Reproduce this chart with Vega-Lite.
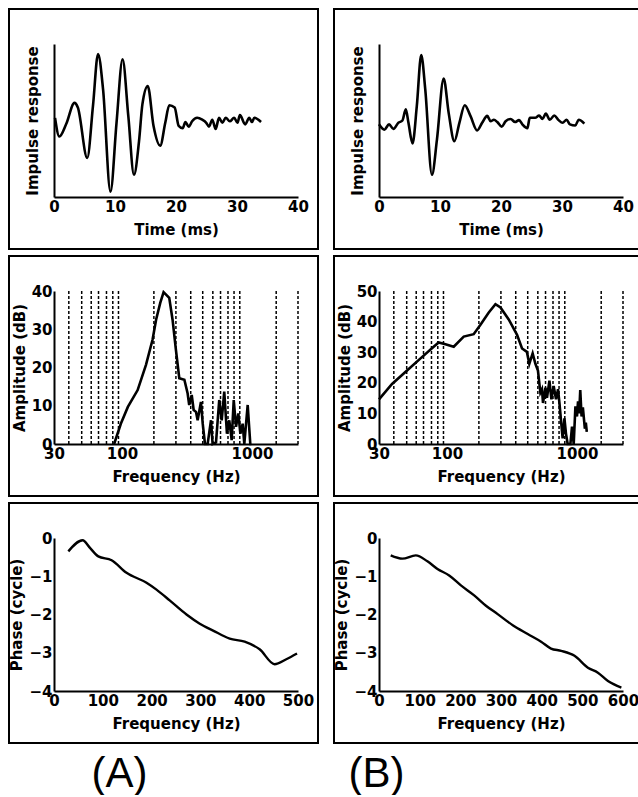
{
"$schema":"https://vega.github.io/schema/vega-lite/v6.json",
"background":"white",
"padding":{"left":8,"top":8,"right":0,"bottom":0},
"autosize":{"type":"pad"},
"datasets":{
"irA":[{"t":0.17,"v":0.035},{"t":0.88,"v":-0.21},{"t":1.98,"v":-0.05},{"t":3.36,"v":0.23},{"t":3.91,"v":0.17},{"t":5.45,"v":-0.49},{"t":6.39,"v":0.19},{"t":7.22,"v":0.87},{"t":8.04,"v":0.41},{"t":9.26,"v":-0.93},{"t":10.25,"v":-0.03},{"t":11.24,"v":0.8},{"t":12.18,"v":0.06},{"t":13.11,"v":-0.71},{"t":13.94,"v":-0.27},{"t":14.49,"v":0.21},{"t":15.37,"v":0.45},{"t":16.31,"v":-0.07},{"t":17.41,"v":-0.33},{"t":18.24,"v":-0.03},{"t":18.9,"v":0.2},{"t":19.78,"v":0.17},{"t":20.44,"v":-0.07},{"t":21.1,"v":-0.1},{"t":21.54,"v":-0.02},{"t":22.09,"v":-0.08},{"t":22.64,"v":-0.01},{"t":23.47,"v":0.035},{"t":24.3,"v":0.01},{"t":24.96,"v":-0.03},{"t":25.4,"v":-0.08},{"t":25.95,"v":0.01},{"t":26.5,"v":-0.11},{"t":27.05,"v":0.035},{"t":27.6,"v":-0.03},{"t":28.15,"v":0.035},{"t":28.82,"v":-0.01},{"t":29.53,"v":0.035},{"t":30.08,"v":-0.03},{"t":30.47,"v":0.07},{"t":31.35,"v":-0.05},{"t":32.01,"v":0.035},{"t":32.45,"v":-0.02},{"t":32.84,"v":0.035},{"t":33.94,"v":-0.02}],
"irB":[{"t":0,"v":-0.05},{"t":0.88,"v":-0.12},{"t":1.65,"v":-0.05},{"t":2.36,"v":-0.11},{"t":3.18,"v":-0.03},{"t":3.84,"v":0},{"t":4.39,"v":0.145},{"t":4.83,"v":-0.03},{"t":5.49,"v":-0.3},{"t":6.2,"v":0.19},{"t":6.92,"v":0.855},{"t":7.58,"v":0.41},{"t":8.68,"v":-0.71},{"t":9.5,"v":-0.25},{"t":10.6,"v":0.55},{"t":11.42,"v":0.1},{"t":12.36,"v":-0.27},{"t":13.18,"v":-0.03},{"t":14.06,"v":0.2},{"t":14.99,"v":0.06},{"t":16.09,"v":-0.13},{"t":16.91,"v":-0.03},{"t":17.74,"v":0.06},{"t":18.29,"v":-0.01},{"t":18.84,"v":0.01},{"t":19.39,"v":-0.02},{"t":20.1,"v":-0.08},{"t":20.76,"v":-0.01},{"t":21.58,"v":0.02},{"t":22.3,"v":-0.02},{"t":22.96,"v":0.005},{"t":23.5,"v":-0.05},{"t":24.33,"v":-0.1},{"t":24.71,"v":0.035},{"t":25.59,"v":0.035},{"t":26.25,"v":0.065},{"t":26.8,"v":0.02},{"t":27.35,"v":0.09},{"t":28.01,"v":0.01},{"t":28.72,"v":0.065},{"t":29.44,"v":0.005},{"t":30.1,"v":-0.03},{"t":30.75,"v":0.01},{"t":31.3,"v":-0.05},{"t":32.18,"v":-0.065},{"t":32.73,"v":0.01},{"t":33.66,"v":-0.04}],
"ampA":[{"f":87,"db":0},{"f":98,"db":5.3},{"f":111,"db":9.7},{"f":132,"db":14.1},{"f":153,"db":20.7},{"f":172,"db":27.3},{"f":183,"db":32.5},{"f":197,"db":36.9},{"f":209,"db":39.7},{"f":231,"db":38.2},{"f":245,"db":32.5},{"f":260,"db":24.6},{"f":276,"db":17.2},{"f":302,"db":16.8},{"f":320,"db":13.2},{"f":329,"db":10.2},{"f":344,"db":12.8},{"f":356,"db":8.9},{"f":371,"db":8.4},{"f":382,"db":6.2},{"f":405,"db":11},{"f":418,"db":5.3},{"f":435,"db":0},{"f":456,"db":0},{"f":484,"db":6.2},{"f":498,"db":0},{"f":529,"db":0.4},{"f":560,"db":11.5},{"f":585,"db":6.2},{"f":612,"db":13.7},{"f":642,"db":2.7},{"f":669,"db":6.2},{"f":698,"db":1},{"f":724,"db":11.5},{"f":754,"db":4.5},{"f":786,"db":8},{"f":814,"db":2.7},{"f":848,"db":5.3},{"f":873,"db":0},{"f":927,"db":10.2},{"f":971,"db":0},{"f":990,"db":0}],
"ampB":[{"f":30,"db":14.6},{"f":37.8,"db":19.6},{"f":49.3,"db":24},{"f":64.2,"db":28.4},{"f":79,"db":31.8},{"f":86.3,"db":33.2},{"f":97.3,"db":32.6},{"f":112.7,"db":31.8},{"f":134.5,"db":35.1},{"f":160.5,"db":35.9},{"f":181,"db":39},{"f":209,"db":42.9},{"f":236,"db":45.7},{"f":258,"db":44.6},{"f":298.5,"db":40.7},{"f":346,"db":35.7},{"f":378,"db":31.2},{"f":412,"db":30.1},{"f":430,"db":26.2},{"f":456,"db":29.6},{"f":479,"db":26.2},{"f":501,"db":24},{"f":523,"db":16.8},{"f":538,"db":17.9},{"f":548,"db":13.4},{"f":572,"db":18.4},{"f":588,"db":15.1},{"f":614,"db":20.7},{"f":636,"db":14.6},{"f":662,"db":19},{"f":690,"db":14.6},{"f":715,"db":17.9},{"f":733,"db":13.4},{"f":753,"db":7.9},{"f":776,"db":1.8},{"f":801,"db":8.4},{"f":823,"db":3.4},{"f":848,"db":0},{"f":890,"db":0},{"f":916,"db":5.7},{"f":944,"db":0},{"f":973,"db":12.3},{"f":1000,"db":9},{"f":1019,"db":13.9},{"f":1040,"db":10},{"f":1060,"db":17.6},{"f":1085,"db":9},{"f":1110,"db":12},{"f":1150,"db":5},{"f":1170,"db":7},{"f":1190,"db":4}],
"phA":[{"f":29.4,"ph":-0.35},{"f":58.7,"ph":-0.06},{"f":73.7,"ph":-0.26},{"f":90.8,"ph":-0.48},{"f":118,"ph":-0.58},{"f":148.7,"ph":-0.91},{"f":189.6,"ph":-1.17},{"f":210,"ph":-1.35},{"f":237,"ph":-1.63},{"f":271.5,"ph":-2.0},{"f":298.7,"ph":-2.24},{"f":326,"ph":-2.42},{"f":360,"ph":-2.63},{"f":390.7,"ph":-2.71},{"f":421.4,"ph":-2.91},{"f":452,"ph":-3.3},{"f":476,"ph":-3.17},{"f":498,"ph":-3.02}],
"phB":[{"f":28.8,"ph":-0.455},{"f":57.5,"ph":-0.54},{"f":90.4,"ph":-0.455},{"f":119,"ph":-0.61},{"f":143.8,"ph":-0.81},{"f":172.6,"ph":-0.98},{"f":201.4,"ph":-1.24},{"f":234,"ph":-1.5},{"f":263,"ph":-1.77},{"f":291.8,"ph":-1.99},{"f":328.8,"ph":-2.28},{"f":365.7,"ph":-2.51},{"f":398.6,"ph":-2.71},{"f":423,"ph":-2.89},{"f":448,"ph":-2.95},{"f":480.8,"ph":-3.08},{"f":513.7,"ph":-3.39},{"f":538.3,"ph":-3.52},{"f":563,"ph":-3.74},{"f":596,"ph":-3.91}],
"lines":[{"f":39},{"f":49},{"f":58},{"f":66},{"f":76},{"f":85},{"f":94},{"f":176},{"f":260},{"f":338},{"f":418},{"f":500},{"f":573},{"f":654},{"f":728},{"f":806},{"f":1536},{"f":2260}]
},
"hconcat":[
{"vconcat":[
{"width":309,"height":240,"data":{"name":"irA"},
 "mark":{"type":"line","interpolate":"monotone","color":"black","strokeWidth":2.6},
 "encoding":{
  "x":{"field":"t","type":"quantitative","scale":{"domain":[0,40],"range":[45,289],"nice":false},"axis":{"title":"Time (ms)","values":[0,10,20,30,40]}},
  "y":{"field":"v","type":"quantitative","scale":{"domain":[-1,1],"range":[188,35],"nice":false},"axis":{"title":"Impulse response","labels":false,"titlePadding":14}}}},
{"width":309,"height":240,
 "layer":[
  {"data":{"name":"lines"},"mark":{"type":"rule","strokeDash":[3,2],"strokeWidth":1.5,"color":"black"},
   "encoding":{
    "x":{"field":"f","type":"quantitative","scale":{"type":"log","domain":[30,2260],"range":[45,289],"nice":false},"axis":{"title":"Frequency (Hz)","values":[30,100,1000],"format":"d"}},
    "y":{"datum":0,"type":"quantitative","scale":{"domain":[0,40],"range":[188,35],"nice":false},"axis":{"title":"Amplitude (dB)","values":[0,10,20,30,40],"titlePadding":4}},
    "y2":{"datum":40}}},
  {"data":{"name":"ampA"},"mark":{"type":"line","color":"black","strokeWidth":2.6},
   "encoding":{
    "x":{"field":"f","type":"quantitative","scale":{"type":"log","domain":[30,2260],"range":[45,289],"nice":false},"axis":{"title":"Frequency (Hz)","values":[30,100,1000],"format":"d"}},
    "y":{"field":"db","type":"quantitative","scale":{"domain":[0,40],"range":[188,35],"nice":false},"axis":{"title":"Amplitude (dB)","values":[0,10,20,30,40],"titlePadding":4}}}}
 ]},
{"width":309,"height":240,"data":{"name":"phA"},
 "mark":{"type":"line","interpolate":"monotone","color":"black","strokeWidth":2.4},
 "encoding":{
  "x":{"field":"f","type":"quantitative","scale":{"domain":[0,500],"range":[45,289],"nice":false},"axis":{"title":"Frequency (Hz)","values":[0,100,200,300,400,500]}},
  "y":{"field":"ph","type":"quantitative","scale":{"domain":[-4,0],"range":[188,35],"nice":false},"axis":{"title":"Phase (cycle)","values":[0,-1,-2,-3,-4],"titlePadding":4}}}}
],"spacing":5,
"title":{"text":"(A)","orient":"bottom","anchor":"middle","dx":-44,"offset":10,"fontSize":42,"font":"Liberation Sans","fontWeight":"normal","color":"black"}},
{"vconcat":[
{"width":309,"height":240,"data":{"name":"irB"},
 "mark":{"type":"line","interpolate":"monotone","color":"black","strokeWidth":2.6},
 "encoding":{
  "x":{"field":"t","type":"quantitative","scale":{"domain":[0,40],"range":[45,289],"nice":false},"axis":{"title":"Time (ms)","values":[0,10,20,30,40]}},
  "y":{"field":"v","type":"quantitative","scale":{"domain":[-1,1],"range":[188,35],"nice":false},"axis":{"title":"Impulse response","labels":false,"titlePadding":14}}}},
{"width":309,"height":240,
 "layer":[
  {"data":{"name":"lines"},"mark":{"type":"rule","strokeDash":[3,2],"strokeWidth":1.5,"color":"black"},
   "encoding":{
    "x":{"field":"f","type":"quantitative","scale":{"type":"log","domain":[30,2260],"range":[45,289],"nice":false},"axis":{"title":"Frequency (Hz)","values":[30,100,1000],"format":"d"}},
    "y":{"datum":0,"type":"quantitative","scale":{"domain":[0,50],"range":[188,35],"nice":false},"axis":{"title":"Amplitude (dB)","values":[0,10,20,30,40,50],"titlePadding":4}},
    "y2":{"datum":50}}},
  {"data":{"name":"ampB"},"mark":{"type":"line","color":"black","strokeWidth":2.6},
   "encoding":{
    "x":{"field":"f","type":"quantitative","scale":{"type":"log","domain":[30,2260],"range":[45,289],"nice":false},"axis":{"title":"Frequency (Hz)","values":[30,100,1000],"format":"d"}},
    "y":{"field":"db","type":"quantitative","scale":{"domain":[0,50],"range":[188,35],"nice":false},"axis":{"title":"Amplitude (dB)","values":[0,10,20,30,40,50],"titlePadding":4}}}}
 ]},
{"width":309,"height":240,"data":{"name":"phB"},
 "mark":{"type":"line","interpolate":"monotone","color":"black","strokeWidth":2.4},
 "encoding":{
  "x":{"field":"f","type":"quantitative","scale":{"domain":[0,600],"range":[45,289],"nice":false},"axis":{"title":"Frequency (Hz)","values":[0,100,200,300,400,500,600]}},
  "y":{"field":"ph","type":"quantitative","scale":{"domain":[-4,0],"range":[188,35],"nice":false},"axis":{"title":"Phase (cycle)","values":[0,-1,-2,-3,-4],"titlePadding":4}}}}
],"spacing":5,
"title":{"text":"(B)","orient":"bottom","anchor":"middle","dx":-112,"offset":10,"fontSize":42,"font":"Liberation Sans","fontWeight":"normal","color":"black"}}
],
"spacing":14,
"config":{
 "view":{"stroke":"black","strokeWidth":2},
 "axis":{"domainColor":"black","domainWidth":2,"grid":false,"ticks":false,"labelFont":"DejaVu Sans","labelFontWeight":"bold","labelFontSize":15,"labelColor":"black","labelPadding":2,"labelFlush":false,"labelOverlap":false,"titleFont":"DejaVu Sans","titleFontWeight":"bold","titleFontSize":15,"titleColor":"black"},
 "axisX":{"offset":-52,"titlePadding":8},
 "axisY":{"offset":-45}
}
}
